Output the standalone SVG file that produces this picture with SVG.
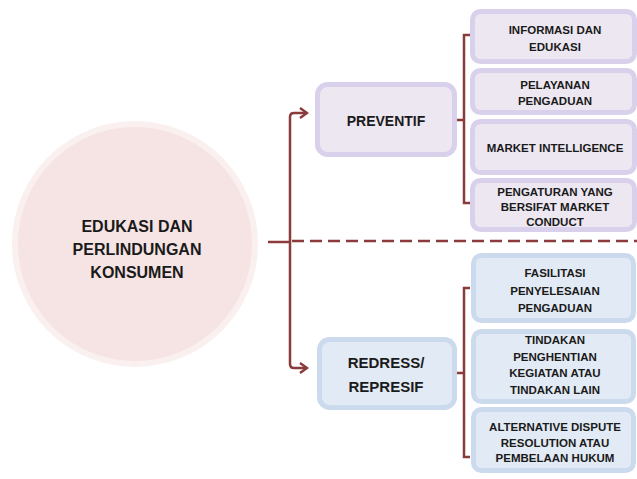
<svg xmlns="http://www.w3.org/2000/svg" width="637" height="479" viewBox="0 0 637 479">
<defs>
<style>
text{font-family:"Liberation Sans",Arial,sans-serif;font-weight:bold;fill:#1a1a1a;text-anchor:middle}
.c{font-size:11.5px}
.p{fill:#ECE7F1;stroke:#D9D1EB;stroke-width:5}
.b{fill:#E2EAF5;stroke:#CCDAEE;stroke-width:5}
.ln{fill:none;stroke:#8B3B3B;stroke-width:2.5}
</style>
<marker id="ah" markerWidth="10" markerHeight="12" refX="8" refY="6" orient="auto" markerUnits="userSpaceOnUse">
<path d="M1,1 L8,6 L1,11" fill="none" stroke="#8B3B3B" stroke-width="2.5"/>
</marker>
</defs>
<rect width="637" height="479" fill="#ffffff"/>
<g id="connectors">
<path class="ln" d="M268,242 H290"/>
<path class="ln" d="M290,242 V117 Q290,113 294,113 H307" marker-end="url(#ah)"/>
<path class="ln" d="M290,242 V364 Q290,368 294,368 H307" marker-end="url(#ah)"/>
<path class="ln" d="M292,241 H637" stroke-dasharray="12 6"/>
<path class="ln" d="M455,120 H463 M470,35 H464 V203 H470"/>
<path class="ln" d="M455,373 H463 M470,288 H464 V457 H470"/>
</g>
<g id="root">
<circle cx="135" cy="244" r="120" fill="#F6E4E4" stroke="#FAF0F0" stroke-width="6"/>
<text x="137" y="232" font-size="16">EDUKASI DAN</text>
<text x="137" y="255" font-size="16">PERLINDUNGAN</text>
<text x="137" y="278" font-size="16">KONSUMEN</text>
</g>
<g id="preventif">
<rect class="p" x="317.5" y="84.5" width="137" height="70" rx="10"/>
<text x="386" y="126" font-size="14">PREVENTIF</text>
</g>
<g id="redress">
<rect class="b" x="319.5" y="339.5" width="135" height="68" rx="10"/>
<text x="386" y="368" font-size="15">REDRESS/</text>
<text x="386" y="392" font-size="15">REPRESIF</text>
</g>
<g id="p1">
<rect class="p" x="472.5" y="11.5" width="162" height="50" rx="8"/>
<text class="c" x="555" y="34">INFORMASI DAN</text>
<text class="c" x="555" y="51">EDUKASI</text>
</g>
<g id="p2">
<rect class="p" x="472.5" y="70.5" width="162" height="42" rx="8"/>
<text class="c" x="555" y="89">PELAYANAN</text>
<text class="c" x="555" y="105">PENGADUAN</text>
</g>
<g id="p3">
<rect class="p" x="472.5" y="121.5" width="162" height="51" rx="8"/>
<text class="c" x="555" y="152">MARKET INTELLIGENCE</text>
</g>
<g id="p4">
<rect class="p" x="472.5" y="180.5" width="162" height="49" rx="8"/>
<text class="c" x="555" y="196">PENGATURAN YANG</text>
<text class="c" x="555" y="211">BERSIFAT MARKET</text>
<text class="c" x="555" y="226">CONDUCT</text>
</g>
<g id="r1">
<rect class="b" x="473.5" y="255.5" width="160" height="65" rx="8"/>
<text class="c" x="555" y="277">FASILITASI</text>
<text class="c" x="555" y="295">PENYELESAIAN</text>
<text class="c" x="555" y="312">PENGADUAN</text>
</g>
<g id="r2">
<rect class="b" x="473.5" y="331.5" width="160" height="70" rx="8"/>
<text class="c" x="555" y="344">TINDAKAN</text>
<text class="c" x="555" y="361">PENGHENTIAN</text>
<text class="c" x="555" y="377">KEGIATAN ATAU</text>
<text class="c" x="555" y="394">TINDAKAN LAIN</text>
</g>
<g id="r3">
<rect class="b" x="473.5" y="409.5" width="160" height="61" rx="8"/>
<text class="c" x="555" y="431">ALTERNATIVE DISPUTE</text>
<text class="c" x="555" y="447">RESOLUTION ATAU</text>
<text class="c" x="555" y="462">PEMBELAAN HUKUM</text>
</g>
</svg>
